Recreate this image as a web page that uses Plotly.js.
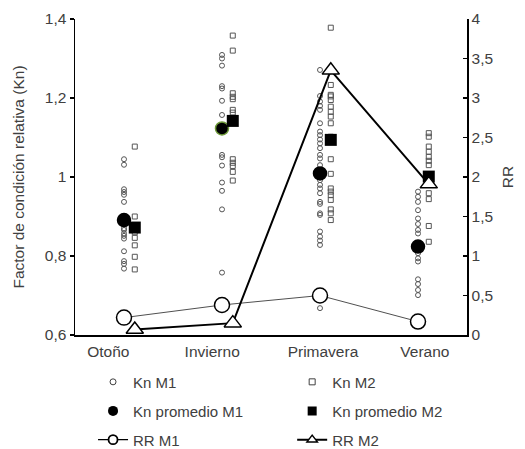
<!DOCTYPE html>
<html>
<head>
<meta charset="utf-8">
<script src="https://cdn.plot.ly/plotly-3.0.1.min.js"></script>
<style>html,body{margin:0;padding:0;background:#fff;}#chart{width:525px;height:449px;}</style>
</head>
<body>
<div id="chart"></div>
<script>
// ---- Data ----
const categories = ['Otoño', 'Invierno', 'Primavera', 'Verano'];

const knM1_otono     = [1.045, 1.031, 0.969, 0.962, 0.955, 0.937, 0.88, 0.87, 0.866, 0.857, 0.851, 0.844, 0.812, 0.787, 0.780, 0.768];
const knM1_invierno  = [1.309, 1.300, 1.282, 1.230, 1.224, 1.193, 1.157, 1.13, 1.056, 1.050, 1.029, 0.986, 0.965, 0.918, 0.758];
const knM1_primavera = [1.271, 1.205, 1.191, 1.180, 1.170, 1.136, 1.115, 1.106, 1.095, 1.085, 1.073, 1.056, 1.047, 1.030, 1.015, 0.992, 0.980, 0.971, 0.959, 0.937, 0.932, 0.908, 0.904, 0.862, 0.849, 0.839, 0.828, 0.668];
const knM1_verano    = [0.963, 0.950, 0.937, 0.916, 0.895, 0.881, 0.866, 0.857, 0.83, 0.807, 0.794, 0.786, 0.741, 0.729, 0.714, 0.701];

const knM2_otono     = [1.077, 0.900, 0.87, 0.86, 0.846, 0.827, 0.798, 0.766];
const knM2_invierno  = [1.358, 1.320, 1.212, 1.203, 1.197, 1.170, 1.163, 1.15, 1.045, 1.036, 1.028, 1.013, 0.991];
const knM2_primavera = [1.378, 1.233, 1.208, 1.204, 1.195, 1.178, 1.165, 1.153, 1.136, 1.102, 1.09, 1.045, 1.008, 0.971, 0.963, 0.954, 0.942, 0.918, 0.908, 0.891];
const knM2_verano    = [1.111, 1.102, 1.077, 1.064, 1.051, 1.041, 1.030, 1.0, 0.959, 0.944, 0.876, 0.836];

const knMeanM1 = [0.891, 1.123, 1.009, 0.824];
const knMeanM2 = [0.872, 1.142, 1.094, 1.001];

const rrM1 = [0.22, 0.38, 0.50, 0.17];
const rrM2 = [0.07, 0.15, 3.35, 1.91];

const yTickVals = [0.6, 0.8, 1.0, 1.2, 1.4];
const y2TickVals = [0, 0.5, 1, 1.5, 2, 2.5, 3, 3.5, 4];

const seriesNames = ['Kn M1', 'Kn M2', 'Kn promedio M1', 'Kn promedio M2', 'RR M1', 'RR M2'];

// ---- Build traces ----
const offM1 = 0.0, offM2 = 0.11;
function expand(groups, off) {
  const xs = [], ys = [];
  groups.forEach((g, i) => g.forEach(v => { xs.push(i + off); ys.push(v); }));
  return {xs, ys};
}
const m1 = expand([knM1_otono, knM1_invierno, knM1_primavera, knM1_verano], offM1);
const m2 = expand([knM2_otono, knM2_invierno, knM2_primavera, knM2_verano], offM2);
const idx = categories.map((c, i) => i);

const TXT = '#404040';
const FONT = 'Liberation Sans, Arial, sans-serif';

const styles = [
  {mode: 'markers', marker: {symbol: 'circle-open', size: 5, color: '#555555', line: {width: 1}}},
  {mode: 'markers', marker: {symbol: 'square-open', size: 5, color: '#555555', line: {width: 1}}},
  {mode: 'markers', marker: {symbol: 'circle', size: 13, color: '#000000', line: {width: 1.5, color: ['#000000', '#6f9a3a', '#000000', '#000000']}}},
  {mode: 'markers', marker: {symbol: 'square', size: 12, color: '#000000'}},
  {mode: 'lines+markers', line: {color: '#505050', width: 1}, marker: {symbol: 'circle', size: 15, color: '#ffffff', line: {color: '#000000', width: 1.5}}},
  {mode: 'lines+markers', line: {color: '#000000', width: 2}, marker: {symbol: 'triangle-up', size: 15, color: '#ffffff', line: {color: '#000000', width: 1.5}}}
];
const legendStyles = [
  {mode: 'markers', marker: {symbol: 'circle-open', size: 6, color: '#404040', line: {width: 1}}},
  {mode: 'markers', marker: {symbol: 'square-open', size: 6, color: '#404040', line: {width: 1}}},
  {mode: 'markers', marker: {symbol: 'circle', size: 10, color: '#000000'}},
  {mode: 'markers', marker: {symbol: 'square', size: 9, color: '#000000'}},
  {mode: 'lines+markers', line: {color: '#000000', width: 1.2}, marker: {symbol: 'circle', size: 9, color: '#ffffff', line: {color: '#000000', width: 1.8}}},
  {mode: 'lines+markers', line: {color: '#000000', width: 2}, marker: {symbol: 'triangle-up', size: 9, color: '#ffffff', line: {color: '#000000', width: 1.5}}}
];
const dataX = [m1.xs, m2.xs, idx.map(i => i + offM1), idx.map(i => i + offM2), idx.map(i => i + offM1), idx.map(i => i + offM2)];
const dataY = [m1.ys, m2.ys, knMeanM1, knMeanM2, rrM1, rrM2];
const axes = ['y', 'y', 'y', 'y', 'y2', 'y2'];
const legendIds = ['legend', 'legend2', 'legend3', 'legend4', 'legend5', 'legend6'];

const traces = [];
seriesNames.forEach((nm, k) => {
  traces.push(Object.assign({x: dataX[k], y: dataY[k], type: 'scatter', name: nm, yaxis: axes[k], showlegend: false, hoverinfo: 'skip'}, styles[k]));
});
seriesNames.forEach((nm, k) => {
  traces.push(Object.assign({x: [null], y: [null], type: 'scatter', name: nm, yaxis: axes[k], legend: legendIds[k], showlegend: true}, legendStyles[k]));
});

function legendAt(x, y) {
  return {orientation: 'v', x: x, xanchor: 'left', y: y, yanchor: 'middle',
          bgcolor: 'rgba(0,0,0,0)', borderwidth: 0,
          font: {family: FONT, size: 15, color: TXT}};
}

const colX = [0.046, 0.554];
const rowY = [-0.149, -0.241, -0.332];

const layout = {
  width: 525, height: 449,
  margin: {l: 75, r: 58, t: 19, b: 114, autoexpand: false},
  paper_bgcolor: '#ffffff', plot_bgcolor: '#ffffff',
  separators: ',.',
  font: {family: FONT, size: 15, color: TXT},
  showlegend: true,
  xaxis: {
    range: [-0.5, 3.5], showgrid: false, zeroline: false,
    showline: true, linecolor: '#000000', linewidth: 1.5,
    tickmode: 'array', tickvals: [-0.16, 0.9, 2.03, 3.07], ticktext: categories,
    ticks: '', ticklabelstandoff: 2,
    tickfont: {family: FONT, size: 15.5, color: TXT}
  },
  yaxis: {
    range: [0.6, 1.4], showgrid: false, zeroline: false,
    showline: true, linecolor: '#000000', linewidth: 1.5,
    tickmode: 'array', tickvals: yTickVals,
    ticks: 'outside', ticklen: 4, tickwidth: 1.5, tickcolor: '#000000',
    tickfont: {family: FONT, size: 15.5, color: TXT},
    title: {text: 'Factor de condición relativa (Kn)', font: {family: FONT, size: 15.5, color: TXT}, standoff: 16}
  },
  yaxis2: {
    range: [0, 4], overlaying: 'y', side: 'right', showgrid: false, zeroline: false,
    showline: true, linecolor: '#000000', linewidth: 1.5,
    tickmode: 'array', tickvals: y2TickVals,
    ticks: 'inside', ticklen: 4, tickwidth: 1.5, tickcolor: '#000000',
    tickfont: {family: FONT, size: 15.5, color: TXT},
    title: {text: 'RR', font: {family: FONT, size: 15.5, color: TXT}, standoff: 10}
  }
};
legendIds.forEach((id, k) => {
  layout[id] = legendAt(colX[k % 2], rowY[Math.floor(k / 2)]);
});

Plotly.newPlot('chart', traces, layout, {displayModeBar: false, staticPlot: true});
</script>
</body>
</html>
